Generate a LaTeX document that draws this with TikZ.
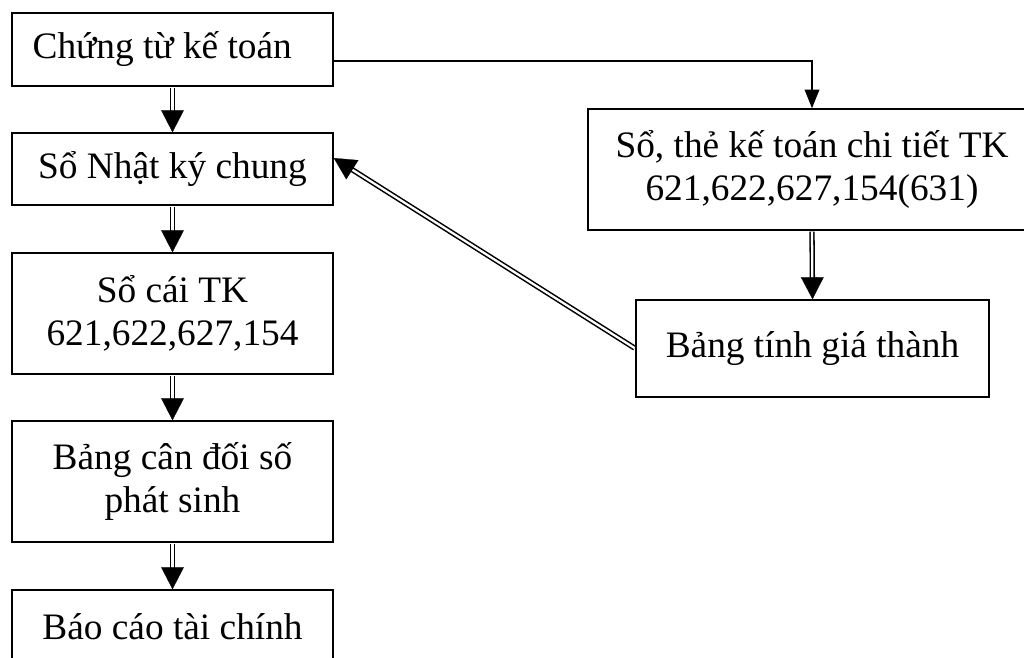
\documentclass[tikz,border=0pt]{standalone}
\usepackage{fontspec}
\setmainfont{Liberation Serif}
\usetikzlibrary{arrows.meta,calc}

% double-line connector: the shaft, then a solid head on top
\newcommand\dblconn[2]{%
  \draw[dblshaft] #1 -- #2;
  \draw[dblhead] #1 -- #2;}

\begin{document}
\begin{tikzpicture}[x=0.75pt,y=-0.75pt,
  box/.style={draw, line width=1.1pt, align=center, inner sep=0pt,
    font=\fontsize{28}{32}\selectfont},
  dblshaft/.style={draw=black, line width=1.15pt, double=white,
    double distance=1.7pt, shorten <=0.6pt, shorten >=15.5pt},
  dblhead/.style={draw=white, line width=0.2pt, shorten <=1.5pt,
    -{Triangle[length=16.5pt,width=17pt,color=black]}},
  single/.style={draw, line width=1pt,
    -{Triangle[length=14pt,width=11pt]}}]

\useasboundingbox (0,0) rectangle (1024,657);
\clip (0,0) rectangle (1024,657);

% left column
\node[box, minimum width=240.75pt, minimum height=54.75pt]
  (ct) at (172.5,49.5) {Chứng từ kế toán\hspace*{0.55em}};
\node[box, minimum width=240.75pt, minimum height=54pt]
  (nk) at (172.5,169) {Sổ Nhật ký chung};
\node[box, minimum width=240.75pt, minimum height=90.75pt]
  (sc) at (172.5,313.5) {Sổ cái TK\\621,622,627,154};
\node[box, minimum width=240.75pt, minimum height=90.75pt]
  (cd) at (172.5,481.5) {Bảng cân đối số\\phát sinh};
\node[box, minimum width=240.75pt, minimum height=54.75pt]
  (bc) at (172.5,626.5) {Báo cáo tài chính};

% right column
\node[box, minimum width=336pt, minimum height=90.75pt]
  (ctt) at (812,169.5) {Sổ, thẻ kế toán chi tiết TK\\621,622,627,154(631)};
\node[box, minimum width=264.75pt, minimum height=72.75pt]
  (gt) at (812.5,348.5) {Bảng tính giá thành};

% connectors
\draw[single] ($(ct.east)+(0,11.5)$) -| (ctt.north);

\dblconn{(ct.south)}{(nk.north)}
\dblconn{(nk.south)}{(sc.north)}
\dblconn{(sc.south)}{(cd.north)}
\dblconn{(cd.south)}{(bc.north)}
\dblconn{(ctt.south)}{(gt.north)}
\dblconn{(gt.west)}{($(nk.east)+(0,-11)$)}
\end{tikzpicture}
\end{document}
